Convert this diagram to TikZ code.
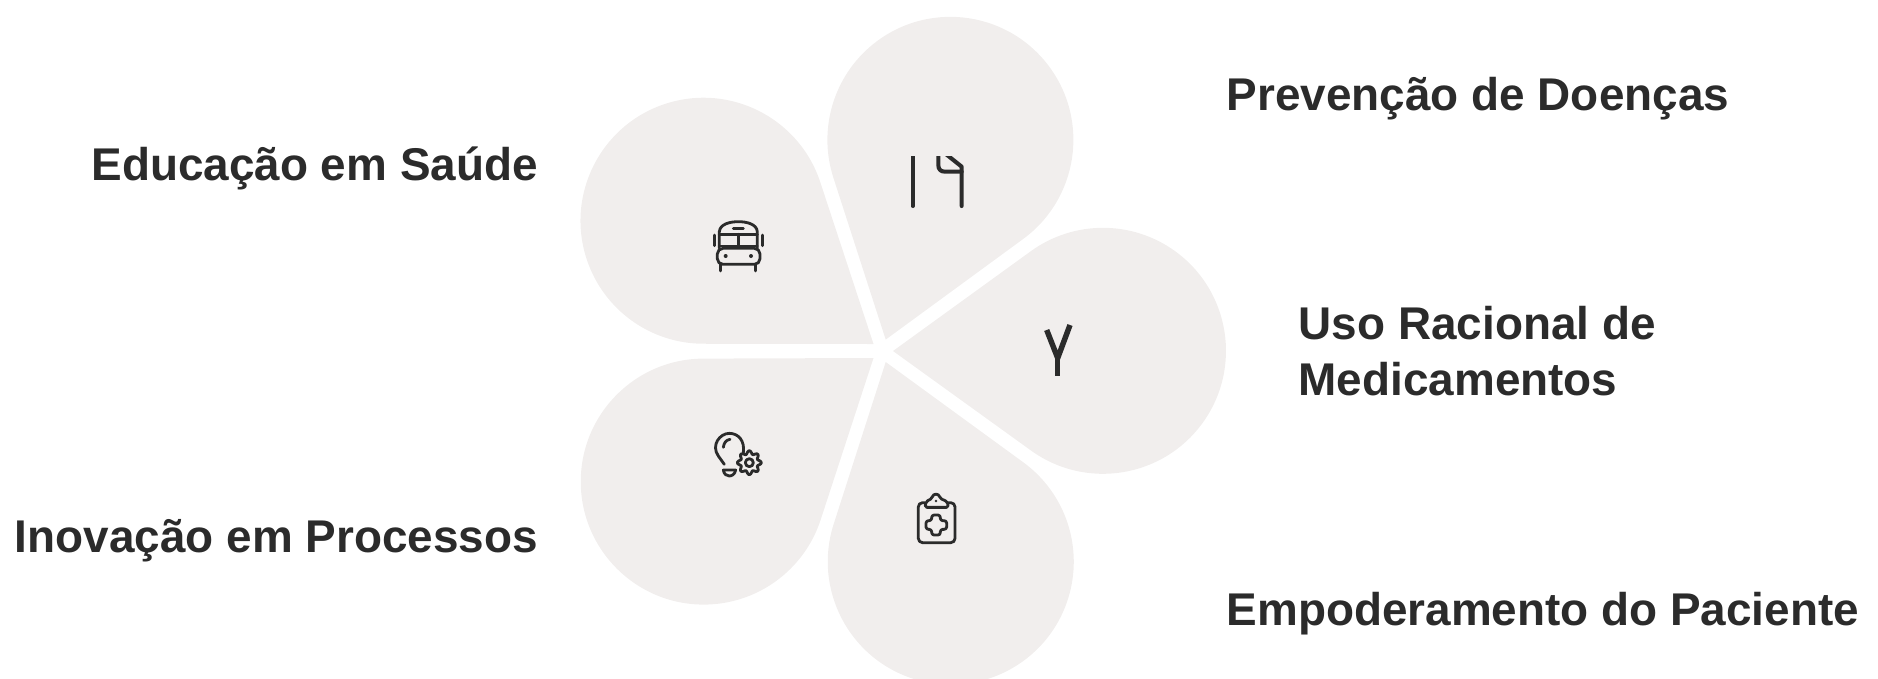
\documentclass[tikz,border=0pt]{standalone}
\usepackage{fontspec}
\setmainfont{Liberation Sans}
\definecolor{petalfill}{HTML}{F1EEED}
\definecolor{inkgray}{HTML}{2B2B2B}
\tikzset{
  petal/.style={fill=petalfill},
  label/.style={inner sep=0pt, text=inkgray, font=\fontsize{13.05}{16}\selectfont\bfseries},
  icon/.style={draw=inkgray, line width=0.8pt, line cap=round, line join=round},
  crop/.style={x=0.01cm/3, y=-0.01cm/3}
}
\begin{document}
\begin{tikzpicture}[x=0.01cm, y=-0.01cm]
    \useasboundingbox (0,0) rectangle (1878,678);
    \clip (0,0) rectangle (1878,678);

    % petals
    \fill [petal, shift={(893,351)}, rotate=0] (0,0) -- (35.8:170.2) arc (125.8:-125.8:123) -- cycle;
    \fill [petal, shift={(885.7,339.6)}, rotate=72] (0,0) -- (35.8:170.2) arc (125.8:-125.8:123) -- cycle;
    \fill [petal, shift={(873.5,344)}, rotate=144] (0,0) -- (35.8:170.2) arc (125.8:-125.8:123) -- cycle;
    \fill [petal, shift={(873.5,358)}, rotate=216] (0,0) -- (35.8:170.2) arc (125.8:-125.8:123) -- cycle;
    \fill [petal, shift={(885.7,362)}, rotate=288] (0,0) -- (35.8:170.2) arc (125.8:-125.8:123) -- cycle;

    % labels
    \node [label, anchor=base west] at (1226, 110) (prevencao) {Prevenção de Doenças};
    \node [label, anchor=base east] at (538.5, 180) (educacao) {Educação em Saúde};
    \node [label, anchor=base west] at (1298, 339) (uso) {Uso Racional de};
    \node [label, anchor=base west] at (1298, 395) (medicamentos) {Medicamentos};
    \node [label, anchor=base east] at (538.5, 552) (inovacao) {Inovação em Processos};
    \node [label, anchor=base west] at (1226, 625) (empoderamento) {Empoderamento do Paciente};

    % broken icon top
    \begin{scope}[shift={(680,120)}, crop]
        \clip (600,110) rectangle (900,300);
        \draw [icon, line width=1.15pt] (698,100) -- (698,258);
        \draw [icon, line width=1.15pt] (775,100) -- (775,135) .. controls (775,148) and (782,155) .. (795,155) -- (845,155);
        \draw [icon, line width=1.15pt] (795,100) -- (845,140) -- (845,258);
    \end{scope}

    % broken icon right
    \draw [icon, line width=1.55pt, line cap=butt, line join=miter] (1046.7,330) -- (1057.7,358) -- (1070,325);
    \draw [icon, line width=1.55pt, line cap=butt] (1057.7,358) -- (1057.7,376);

    % bus
    \begin{scope}[shift={(680,120)}, crop]
        \draw [icon] (118,385) -- (118,335) .. controls (120,312) and (150,305) .. (175,305) .. controls (200,305) and (230,312) .. (232,335) -- (232,385);
        \draw [icon] (118,343) -- (232,343);
        \draw [icon] (118,378) -- (232,378);
        \draw [icon] (175,343) -- (175,378);
        \draw [icon] (160,326) -- (190,326);
        \draw [icon] (103,345) -- (103,377);
        \draw [icon] (247,345) -- (247,377);
        \draw [icon, rounded corners=1.6pt] (112,385) rectangle (240,433);
        \fill [inkgray] (137,408) circle (6);
        \fill [inkgray] (213,408) circle (6);
        \draw [icon] (122,433) -- (122,453);
        \draw [icon] (227,433) -- (227,453);
    \end{scope}

    % bulb and gear
    \begin{scope}[shift={(690,420)}, crop]
        \draw [icon] (103,133) -- (85,108) .. controls (62,75) and (90,40) .. (118,40) .. controls (145,40) and (165,62) .. (160,98);
        \draw [icon] (100,82) .. controls (102,68) and (108,60) .. (120,58);
        \draw [icon] (100,150) -- (137,150) .. controls (135,163) and (125,168) .. (118,168) .. controls (110,168) and (102,163) .. (100,150) -- cycle;
        \draw [icon] plot [smooth cycle, samples=65, domain=0:354.5] ({178+(31+5*cos(8*\x))*cos(\x)},{128+(31+5*cos(8*\x))*sin(\x)});
        \draw [icon] (178,128) circle (12);
    \end{scope}

    % clipboard
    \begin{scope}[shift={(690,420)}, crop]
        \draw [icon, rounded corners=1.2pt] (705,248) -- (685,248) -- (685,368) -- (795,368) -- (795,248) -- (775,248);
        \draw [icon, rounded corners=0.5pt] (705,262) -- (775,262) -- (772,245) -- (750,235) .. controls (746,220) and (730,220) .. (726,235) -- (708,245) -- cycle;
        \fill [inkgray] (738,243) circle (4);
        \draw [icon, rounded corners=0.7pt] (725,285) -- (751,285) -- (751,302) -- (770,302) -- (770,328) -- (751,328) -- (751,345) -- (725,345) -- (725,328) -- (708,328) -- (708,302) -- (725,302) -- cycle;
    \end{scope}
\end{tikzpicture}
\end{document}
